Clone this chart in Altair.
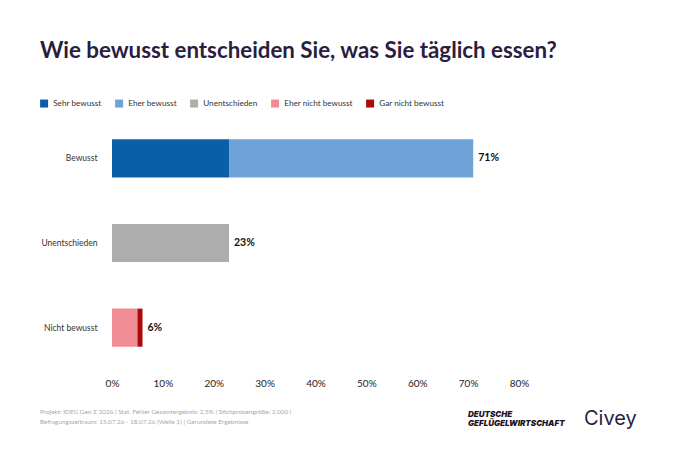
import altair as alt
import pandas as pd

# ---- data ----
seg_groups = ["Bewusst", "Bewusst", "Unentschieden", "Nicht bewusst", "Nicht bewusst"]
seg_answers = ["Sehr bewusst", "Eher bewusst", "Unentschieden", "Eher nicht bewusst", "Gar nicht bewusst"]
seg_values = [23, 48, 23, 5, 1]
seg_order = [1, 2, 3, 4, 5]

groups = ["Bewusst", "Unentschieden", "Nicht bewusst"]
totals = [71, 23, 6]

answer_colors = ["#0b5ea8", "#6fa2d7", "#adadad", "#f08c93", "#ad0a0c"]
x_ticks = [0, 10, 20, 30, 40, 50, 60, 70, 80]

title_text = "Wie bewusst entscheiden Sie, was Sie täglich essen?"
footer_lines = [
    "Projekt: IDEG Gen Z 2026 | Stat. Fehler Gesamtergebnis: 2,5% | Stichprobengröße: 2.000 |",
    "Befragungszeitraum: 15.07.26 - 18.07.26 (Welle 1) | Gerundete Ergebnisse",
]
logo_lines = ["DEUTSCHE", "GEFLÜGELWIRTSCHAFT"]
brand = "Civey"

seg_df = pd.DataFrame({"group": seg_groups, "answer": seg_answers,
                       "value": seg_values, "ord": seg_order})
tot_df = pd.DataFrame({"group": groups, "total": totals})
tot_df["label"] = tot_df["total"].astype(str) + "%"

FONT = "Lato"
W, H = 407, 254

y_enc = alt.Y("group:N", sort=groups, title=None,
              scale=alt.Scale(paddingInner=0.55, paddingOuter=0.275),
              axis=alt.Axis(domain=False, ticks=False, labelPadding=15,
                            labelFontSize=8.5, labelColor="#333333", labelFont=FONT))

bars = alt.Chart(seg_df).mark_bar().encode(
    x=alt.X("value:Q", stack="zero", title=None,
            scale=alt.Scale(domain=[0, 80], nice=False),
            axis=alt.Axis(values=x_ticks, grid=False, domain=False, ticks=False,
                          labelFlush=False,
                          labelExpr="datum.value + '%'", labelPadding=8,
                          labelFontSize=10, labelColor="#222222", labelFont=FONT)),
    y=y_enc,
    color=alt.Color("answer:N", sort=seg_answers,
                    scale=alt.Scale(domain=seg_answers, range=answer_colors),
                    legend=alt.Legend(title=None, orient="none", direction="horizontal",
                                      legendX=-72, legendY=-17, symbolType="square",
                                      symbolSize=64, symbolStrokeWidth=0,
                                      labelFontSize=8.2, labelColor="#333333",
                                      labelFont=FONT, columnPadding=13,
                                      labelOffset=5)),
    order=alt.Order("ord:Q"),
)

labels = alt.Chart(tot_df).mark_text(align="left", dx=5, fontWeight="bold",
                                     fontSize=10.5, font=FONT, color="#111111").encode(
    x=alt.X("total:Q"),
    y=alt.Y("group:N", sort=groups),
    text="label:N",
)

title = alt.Chart(pd.DataFrame({"t": [title_text]})).mark_text(
    align="left", baseline="alphabetic", fontSize=22.3, fontWeight="bold",
    font=FONT, color="#2a1d3f").encode(
    x=alt.value(-72), y=alt.value(-58), text="t:N")

footer = alt.Chart(pd.DataFrame({"t": [footer_lines[0]]})).mark_text(
    align="left", baseline="middle", fontSize=6.4, font=FONT, color="#a8a8a8").encode(
    x=alt.value(-72), y=alt.value(296), text="t:N")
footer2 = alt.Chart(pd.DataFrame({"t": [footer_lines[1]]})).mark_text(
    align="left", baseline="middle", fontSize=6.4, font=FONT, color="#a8a8a8").encode(
    x=alt.value(-72), y=alt.value(306), text="t:N")

logo1 = alt.Chart(pd.DataFrame({"t": [logo_lines[0]]})).mark_text(
    align="left", baseline="middle", fontSize=8, fontWeight=900, fontStyle="italic",
    font="Inter", color="#1a1426").encode(
    x=alt.value(356), y=alt.value(299), text="t:N")
logo2 = alt.Chart(pd.DataFrame({"t": [logo_lines[1]]})).mark_text(
    align="left", baseline="middle", fontSize=8, fontWeight=900, fontStyle="italic",
    font="Inter", color="#1a1426").encode(
    x=alt.value(356), y=alt.value(308), text="t:N")
civey = alt.Chart(pd.DataFrame({"t": [brand]})).mark_text(
    align="left", baseline="middle", fontSize=20, font="Inter", color="#2a1d3f").encode(
    x=alt.value(472), y=alt.value(303), text="t:N")

chart = alt.layer(bars, labels, title, footer, footer2, logo1, logo2, civey).properties(
    width=W, height=H,
    background="white",
    autosize=alt.AutoSizeParams(type="none"),
    padding={"left": 104, "top": 108, "right": 149, "bottom": 66},
).configure_view(strokeWidth=0, stroke="transparent")

chart.save("out.html", embed_options={"renderer": "svg", "actions": False})
